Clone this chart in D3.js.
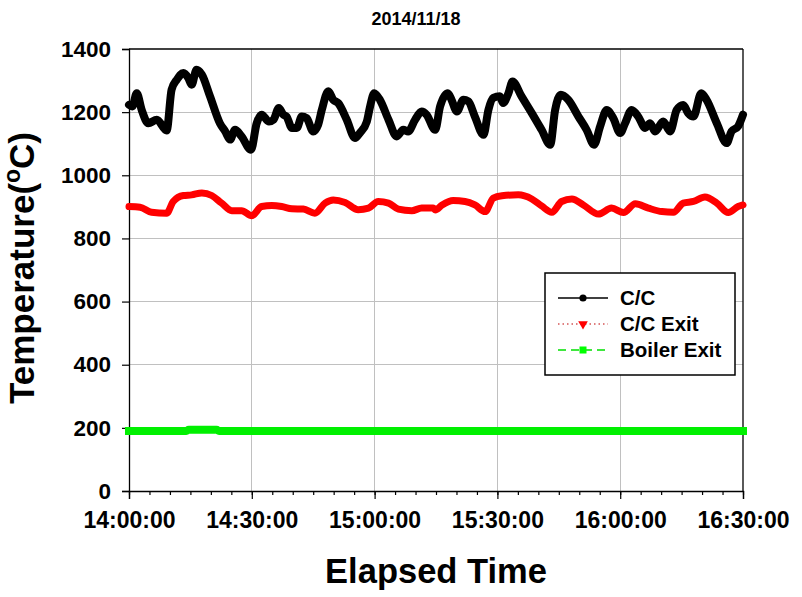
<!DOCTYPE html>
<html>
<head>
<meta charset="utf-8">
<script src="https://cdn.jsdelivr.net/npm/d3@7"></script>
<style>
  html, body { margin: 0; padding: 0; background: #fff; }
  svg { display: block; }
  text { font-family: "Liberation Sans", Arial, Helvetica, sans-serif; font-weight: bold; fill: #000; }
</style>
</head>
<body>
<svg id="chart" width="802" height="597"></svg>
<script>
// ---------------- DATA ----------------
const chartTitle = "2014/11/18";
const xTitle = "Elapsed Time";
const yTitle = "Temperature(";
const seriesNames = ["C/C", "C/C Exit", "Boiler Exit"];
const yTicks = [0, 200, 400, 600, 800, 1000, 1200, 1400];
const startTime = "2014-11-18 14:00:00";
const endTime = "2014-11-18 16:30:00";

// minutes after 14:00:00
const ccMinutes = [0, 0.8, 1.9, 3.1, 4.7, 6.8, 9.2, 10.4, 11.7, 13.3, 14.5, 15.3, 16.5, 17.8, 19.8, 22.2, 23.5, 24.7, 25.9, 27.5, 29.8,
  31.2, 32.4, 34.2, 35.3, 36.6, 37.7, 38.5, 39.8, 41.0, 42.2, 43.4, 45.0, 46.2, 47.1, 48.7, 49.9, 51.1, 53.2, 55.2, 56.4, 58.1, 58.9, 59.9,
  61.3, 63.4, 65.4, 67.0, 68.2, 69.9, 71.5, 72.7, 74.8, 76.0, 77.9, 78.8, 80.1, 81.7, 82.9, 84.5, 86.6, 87.8, 89.0,
  90.6, 91.4, 92.7, 93.7, 95.9, 98.4, 100.8, 102.9, 104.1, 105.5, 107.3, 109.8, 111.8, 113.6, 115.1, 116.7, 118.3,
  120.0, 121.2, 122.8, 124.4, 126.1, 127.3, 128.5, 130.5, 132.2, 133.8, 135.4, 136.6, 137.9, 139.8, 141.1, 143.6, 146.0, 147.2, 148.8, 150];
const ccTemp = [1223, 1218, 1260, 1207, 1165, 1176, 1142, 1271, 1303, 1324, 1308, 1287, 1334, 1319, 1250, 1165, 1139, 1113, 1144, 1123, 1081,
  1165, 1192, 1170, 1176, 1213, 1192, 1186, 1150, 1150, 1186, 1181, 1139, 1160, 1207, 1266, 1239, 1229, 1176, 1118, 1134, 1170, 1218, 1260,
  1239, 1176, 1123, 1144, 1139, 1176, 1202, 1192, 1144, 1218, 1260, 1239, 1202, 1239, 1234, 1186, 1128, 1207, 1245,
  1250, 1229, 1260, 1297, 1250, 1197, 1144, 1097, 1207, 1255, 1239, 1186, 1144, 1097, 1155, 1207, 1181,
  1134, 1165, 1207, 1186, 1150, 1165, 1139, 1170, 1139, 1207, 1223, 1197, 1186, 1260, 1239, 1165, 1102, 1139, 1155, 1192];

const exitMinutes = [0, 2.7, 5.5, 9.2, 10.8, 13.3, 15.3, 17.8, 20.2, 22.6, 25.1, 27.5, 30.0, 32.4, 34.9, 37.3, 39.8, 42.6, 45.4, 47.9, 49.9,
  52.8, 56.0, 58.5, 60.9, 63.4, 65.8, 69.1, 71.5, 74.3, 74.8, 76.5, 79.2, 82.1, 84.5, 87.0, 89.0, 91.1, 95.1, 98.4, 100.8, 103.3,
  105.7, 108.2, 111.0, 114.7, 117.9, 120.8, 123.7, 126.9, 130.2, 133.0, 135.4, 137.9, 140.7, 143.6, 146.4, 148.8, 150];
const exitTemp = [901, 899, 883, 880, 917, 936, 938, 944, 936, 912, 888, 888, 872, 901, 904, 901, 894, 893, 880, 912, 922,
  914, 891, 896, 917, 912, 893, 888, 896, 896, 890, 906, 920, 917, 906, 885, 928, 935, 938, 925, 903, 883,
  917, 925, 906, 877, 896, 882, 910, 896, 885, 883, 912, 917, 931, 912, 882, 901, 906];

const boilerMinutes = [0, 14.0, 14.6, 21.4, 22.0, 60, 90, 120, 150];
const boilerTemp = [190, 190, 194, 194, 190, 190, 190, 190, 190];

// ---------------- CHART ----------------
const W = 802, H = 597;
const margin = { left: 129, right: 802 - 743, top: 49, bottom: 597 - 491 };
const iw = W - margin.left - margin.right;
const ih = H - margin.top - margin.bottom;

const parse = d3.timeParse("%Y-%m-%d %H:%M:%S");
const t0 = parse(startTime), t1 = parse(endTime);
const toDate = m => d3.timeSecond.offset(t0, Math.round(m * 60));

const x = d3.scaleTime().domain([t0, t1]).range([0, iw]);
const y = d3.scaleLinear().domain([0, 1400]).range([ih, 0]);

const svg = d3.select("#chart");
svg.append("rect").attr("width", W).attr("height", H).attr("fill", "#fff");
const g = svg.append("g").attr("transform", `translate(${margin.left},${margin.top})`);

// grid
const majorTimes = d3.timeMinute.every(30).range(t0, d3.timeSecond.offset(t1, 1));
const minorTimes = d3.timeMinute.every(5).range(t0, d3.timeSecond.offset(t1, 1));
g.append("g").selectAll("line").data(majorTimes.slice(1, -1)).join("line")
  .attr("x1", d => x(d)).attr("x2", d => x(d)).attr("y1", 0).attr("y2", ih)
  .attr("stroke", "#c0c0c0").attr("stroke-width", 1).attr("shape-rendering", "crispEdges");
g.append("g").selectAll("line").data(yTicks.slice(1, -1)).join("line")
  .attr("x1", 0).attr("x2", iw).attr("y1", d => y(d)).attr("y2", d => y(d))
  .attr("stroke", "#c0c0c0").attr("stroke-width", 1).attr("shape-rendering", "crispEdges");

// frame top/right
g.append("line").attr("x1", 0).attr("x2", iw).attr("y1", 0).attr("y2", 0).attr("stroke", "#000").attr("stroke-width", 1.3);
g.append("line").attr("x1", iw).attr("x2", iw).attr("y1", 0).attr("y2", ih).attr("stroke", "#000").attr("stroke-width", 1.3);

// axes
const yAxis = d3.axisLeft(y).tickValues(yTicks).tickSize(7).tickPadding(11).tickFormat(d3.format("d"));
const yg = g.append("g").call(yAxis);
yg.selectAll("text").style("font-size", "22.5px");

const xAxisMinor = d3.axisBottom(x).tickValues(minorTimes).tickSize(4).tickFormat("");
const xgm = g.append("g").attr("transform", `translate(0,${ih})`).call(xAxisMinor);
xgm.select(".domain").remove();
const xAxis = d3.axisBottom(x).tickValues(majorTimes).tickSize(8).tickPadding(13).tickFormat(d3.timeFormat("%H:%M:%S"));
const xg = g.append("g").attr("transform", `translate(0,${ih})`).call(xAxis);
xg.selectAll("text").style("font-size", "23px");

[yg, xg, xgm].forEach(a => {
  a.selectAll("path.domain").attr("stroke", "#000").attr("stroke-width", 1.3);
  a.selectAll(".tick line").attr("stroke", "#000").attr("stroke-width", 1.2);
  a.selectAll("text").attr("font-family", null);
});

// series
const mk = (ts, vs) => ts.map((t, i) => ({ t: toDate(t), v: vs[i] }));
const line = d3.line().x(d => x(d.t)).y(d => y(d.v)).curve(d3.curveMonotoneX);

g.append("path").datum(mk(boilerMinutes, boilerTemp)).attr("d", line)
  .attr("fill", "none").attr("stroke", "#00f000").attr("stroke-width", 8)
  .attr("stroke-linejoin", "round").attr("stroke-linecap", "square");
g.append("path").datum(mk(exitMinutes, exitTemp)).attr("d", line)
  .attr("fill", "none").attr("stroke", "#ff0000").attr("stroke-width", 7)
  .attr("stroke-linejoin", "round").attr("stroke-linecap", "round");
g.append("path").datum(mk(ccMinutes, ccTemp)).attr("d", line)
  .attr("fill", "none").attr("stroke", "#000").attr("stroke-width", 8)
  .attr("stroke-linejoin", "round").attr("stroke-linecap", "round");

// legend
const lg = svg.append("g").attr("transform", "translate(545,273)");
lg.append("rect").attr("width", 190).attr("height", 102).attr("fill", "#fff")
  .attr("stroke", "#000").attr("stroke-width", 1.5);
const rows = [25, 51, 77];
// C/C
lg.append("line").attr("x1", 13).attr("x2", 63).attr("y1", rows[0]).attr("y2", rows[0]).attr("stroke", "#000").attr("stroke-width", 1.5);
lg.append("circle").attr("cx", 38).attr("cy", rows[0]).attr("r", 3.6).attr("fill", "#000");
// C/C Exit
lg.append("line").attr("x1", 13).attr("x2", 63).attr("y1", rows[1]).attr("y2", rows[1]).attr("stroke", "#c00000").attr("stroke-width", 1.2).attr("stroke-dasharray", "1.5,3");
lg.append("path").attr("d", d3.symbol(d3.symbolTriangle, 40)()).attr("transform", `translate(38,${rows[1]}) rotate(180)`).attr("fill", "#ff0000");
// Boiler Exit
lg.append("line").attr("x1", 13).attr("x2", 63).attr("y1", rows[2]).attr("y2", rows[2]).attr("stroke", "#00e000").attr("stroke-width", 1.3).attr("stroke-dasharray", "8,5");
lg.append("rect").attr("x", 34.5).attr("y", rows[2] - 3.5).attr("width", 7).attr("height", 7).attr("fill", "#00ff00");
lg.selectAll("text.leg").data(seriesNames).join("text").attr("class", "leg")
  .attr("x", 75).attr("y", (d, i) => rows[i] + 7).style("font-size", "20.5px").text(d => d);

// titles
svg.append("text").attr("x", 416).attr("y", 25).attr("text-anchor", "middle").style("font-size", "18px").text(chartTitle);
svg.append("text").attr("x", margin.left + iw / 2).attr("y", 583).attr("text-anchor", "middle").style("font-size", "34.5px").text(xTitle);
const yt = svg.append("text").attr("transform", "translate(34,268) rotate(-90)").attr("text-anchor", "middle").style("font-size", "35px");
yt.append("tspan").text(yTitle);
yt.append("tspan").attr("dy", -14).style("font-size", "23px").text("o");
yt.append("tspan").attr("dy", 14).text("C)");
</script>
</body>
</html>
